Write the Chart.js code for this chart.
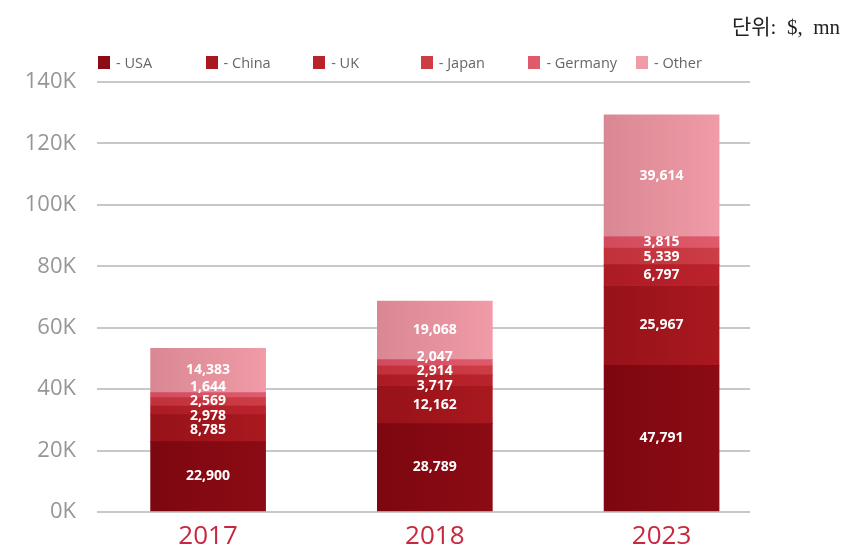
<!DOCTYPE html>
<html>
<head>
<meta charset="utf-8">
<script src="https://cdn.jsdelivr.net/npm/chart.js@4/dist/chart.umd.min.js"></script>
<style>
  body { margin: 0; background: #fff; }
  #wrap { position: relative; width: 844px; height: 549px; }
  #unit {
    position: absolute; right: 4px; top: 10px;
    font-family: "Liberation Serif", "Noto Sans CJK KR", serif;
    font-size: 21px; color: #222; white-space: pre;
  }
  #legend {
    position: absolute; left: 98px; top: 53px; display: flex;
    font-family: "Open Sans", sans-serif; font-size: 14.5px; color: #666;
  }
  #legend .item { width: 107.6px; display: flex; align-items: center; }
  #legend .box { width: 12px; height: 13px; margin-right: 6px; }
</style>
</head>
<body>
<div id="wrap">
  <canvas id="canvas" width="844" height="549"></canvas>
  <div id="unit">단위:  $,  mn</div>
  <div id="legend"></div>
</div>
<script>
const years = ['2017', '2018', '2023']
const usa = [22900, 28789, 47791]
const china = [8785, 12162, 25967]
const uk = [2978, 3717, 6797]
const japan = [2569, 2914, 5339]
const germany = [1644, 2047, 3815]
const other = [14383, 19068, 39614]
const yTicks = [0, 20000, 40000, 60000, 80000, 100000, 120000, 140000]

const series = [
  { label: '- USA', values: usa, color: ['#7c0710', '#8c0b14'] },
  { label: '- China', values: china, color: ['#971219', '#a9181f'] },
  { label: '- UK', values: uk, color: ['#ab1b24', '#bb232c'] },
  { label: '- Japan', values: japan, color: ['#c0313a', '#cd3d45'] },
  { label: '- Germany', values: germany, color: ['#d14b5d', '#df5a6b'] },
  { label: '- Other', values: other, color: ['#d98893', '#f09ba7'] }
]

const BAR_W = 115
const LABEL_GAP = 14.5

// horizontal shading across each bar
function shade(colors) {
  return (ctx) => {
    const chart = ctx.chart
    if (!chart.chartArea || !ctx.raw) return colors[1]
    const cx = chart.scales.x.getPixelForValue(ctx.raw.x)
    const g = chart.ctx.createLinearGradient(cx - BAR_W / 2, 0, cx + BAR_W / 2, 0)
    g.addColorStop(0, colors[0])
    g.addColorStop(1, colors[1])
    return g
  }
}

const datasets = series.map((s) => ({
  label: s.label,
  data: s.values.map((v, i) => ({ x: i, y: v })),
  backgroundColor: shade(s.color),
  borderWidth: 0,
  barThickness: BAR_W
}))

// legend
const legend = document.getElementById('legend')
series.forEach((s) => {
  const item = document.createElement('div')
  item.className = 'item'
  item.innerHTML = '<span class="box" style="background:' + s.color[1] + '"></span>' + s.label
  legend.appendChild(item)
})

// value labels in the middle of every segment, nudged apart where the
// thin segments would make them collide
const segmentLabels = {
  id: 'segmentLabels',
  afterDatasetsDraw(chart) {
    const c = chart.ctx
    c.save()
    c.fillStyle = '#fff'
    c.font = 'bold 14px "Open Sans", sans-serif'
    c.textAlign = 'center'
    c.textBaseline = 'middle'
    const n = chart.data.datasets.length
    years.forEach((yr, i) => {
      const items = []
      for (let di = 0; di < n; di++) {
        const bar = chart.getDatasetMeta(di).data[i]
        items.push({ x: bar.x, y: (bar.y + bar.base) / 2, text: chart.data.datasets[di].data[i].y.toLocaleString('en-US') })
      }
      // items run bottom to top, so each y should sit LABEL_GAP above the one before
      for (let k = 0; k < 30; k++) {
        for (let j = 1; j < items.length; j++) {
          const overlap = LABEL_GAP - (items[j - 1].y - items[j].y)
          if (overlap > 0) {
            items[j - 1].y += overlap / 2
            items[j].y -= overlap / 2
          }
        }
      }
      items.forEach((it) => c.fillText(it.text, it.x, it.y))
    })
    c.restore()
  }
}

new Chart(document.getElementById('canvas'), {
  type: 'bar',
  data: { datasets },
  plugins: [segmentLabels],
  options: {
    responsive: false,
    animation: false,
    layout: { padding: { left: 0, top: 82, right: 94, bottom: 0 } },
    plugins: { legend: { display: false }, tooltip: { enabled: false } },
    scales: {
      x: {
        type: 'linear',
        stacked: true,
        offset: false,
        min: -0.49,
        max: 2.39,
        afterBuildTicks: (axis) => { axis.ticks = years.map((y, i) => ({ value: i })) },
        afterFit: (axis) => { axis.height = 37 },
        grid: { display: false, offset: false },
        border: { display: false },
        ticks: {
          callback: (v) => years[v],
          color: '#c8283d',
          padding: 1,
          maxRotation: 0,
          font: { family: 'Open Sans', size: 26 }
        }
      },
      y: {
        stacked: true,
        min: 0,
        max: 140000,
        afterBuildTicks: (axis) => { axis.ticks = yTicks.map((v) => ({ value: v })) },
        afterFit: (axis) => { axis.width = 97 },
        grid: { color: '#c8c8c8', lineWidth: 2, drawTicks: false },
        border: { display: false },
        ticks: {
          callback: (v) => (v / 1000) + 'K',
          color: '#969696',
          padding: 21,
          font: { family: 'Open Sans', size: 22 }
        }
      }
    }
  }
})
</script>
</body>
</html>
